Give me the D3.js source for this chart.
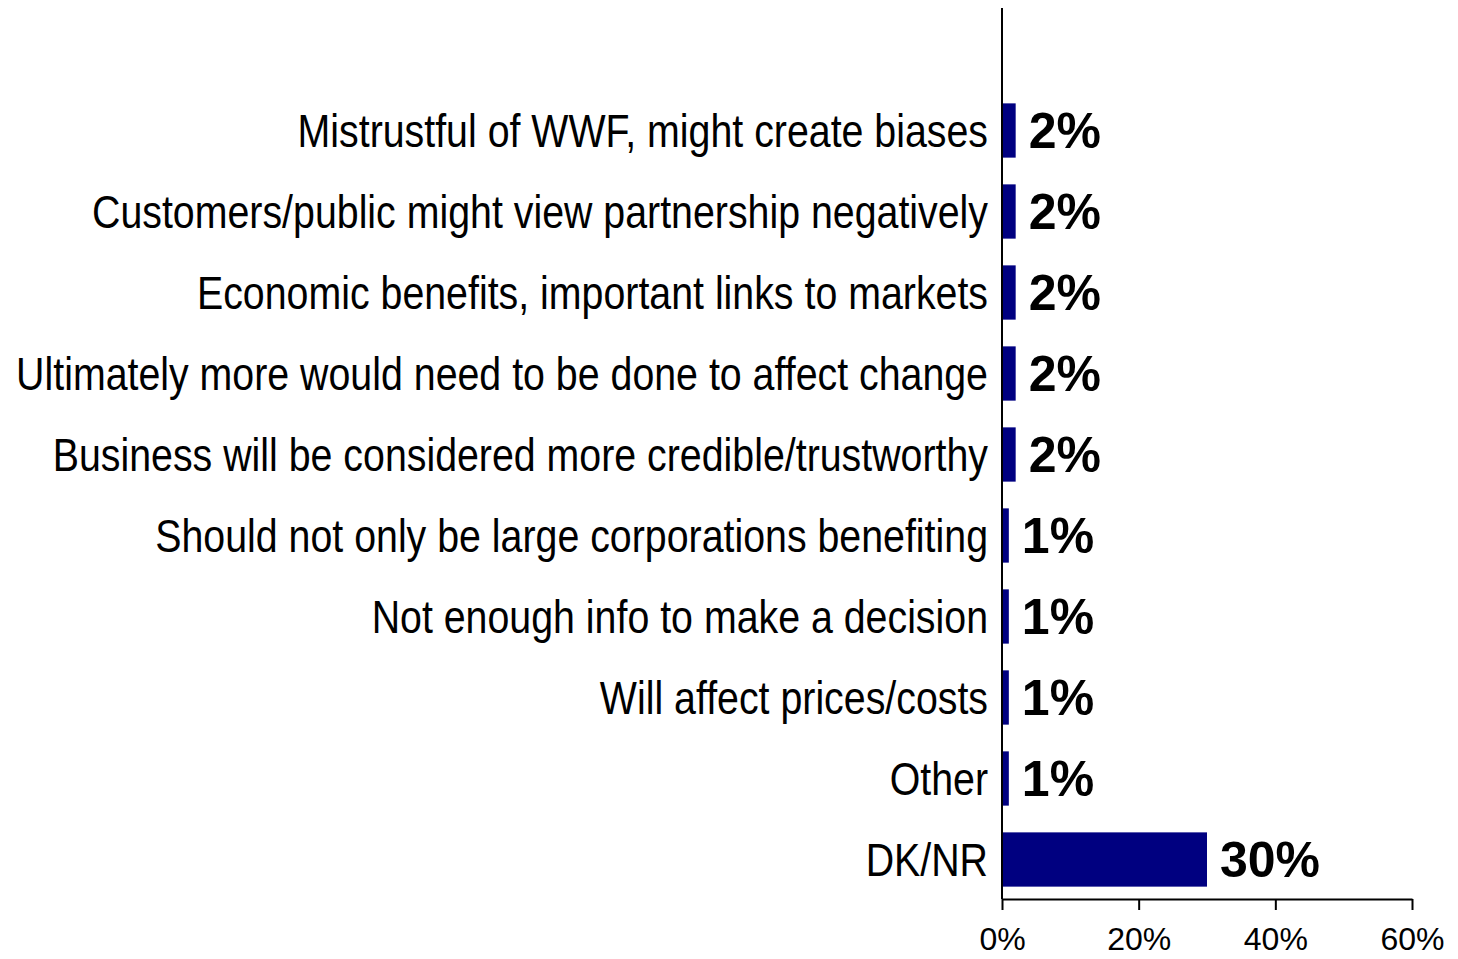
<!DOCTYPE html>
<html>
<head>
<meta charset="utf-8">
<script src="https://cdn.jsdelivr.net/npm/d3@7"></script>
<style>
  html, body { margin: 0; padding: 0; background: #fff; }
  svg { display: block; }
</style>
</head>
<body>
<svg id="chart" width="1458" height="959"></svg>
<script>
// Reasons given, top to bottom
const categories = [
  "Mistrustful of WWF, might create biases",
  "Customers/public might view partnership negatively",
  "Economic benefits, important links to markets",
  "Ultimately more would need to be done to affect change",
  "Business will be considered more credible/trustworthy",
  "Should not only be large corporations benefiting",
  "Not enough info to make a decision",
  "Will affect prices/costs",
  "Other",
  "DK/NR"
];
const values = [2, 2, 2, 2, 2, 1, 1, 1, 1, 30];
const tickValues = [0, 20, 40, 60];

const svg = d3.select("#chart");

const x = d3.scaleLinear().domain([0, 60]).range([1002, 1412]);
const y = d3.scaleBand()
  .domain(categories)
  .range([90, 900])
  .paddingInner(0.33)
  .paddingOuter(0.165);

const barColor = "#000080";
// condensed look for the category labels
const narrow = 0.855;

// bars
svg.append("g")
  .selectAll("rect")
  .data(values)
  .join("rect")
  .attr("x", x(0))
  .attr("y", (d, i) => y(categories[i]))
  .attr("width", d => x(d) - x(0))
  .attr("height", y.bandwidth())
  .attr("fill", barColor);

// value labels
svg.append("g")
  .selectAll("text")
  .data(values)
  .join("text")
  .attr("x", d => x(d) + 13)
  .attr("y", (d, i) => y(categories[i]) + y.bandwidth() / 2)
  .attr("dy", "0.35em")
  .attr("font-family", "Liberation Sans, Arial, sans-serif")
  .attr("font-weight", "bold")
  .attr("font-size", 50)
  .attr("fill", "#000")
  .text(d => d + "%");

// category labels
svg.append("g")
  .selectAll("text")
  .data(categories)
  .join("text")
  .attr("transform", d => `translate(988,${y(d) + y.bandwidth() / 2}) scale(${narrow},1)`)
  .attr("dy", "0.35em")
  .attr("text-anchor", "end")
  .attr("font-family", "Liberation Sans, Arial, sans-serif")
  .attr("font-size", 46)
  .attr("fill", "#000")
  .text(d => d);

// vertical axis line
svg.append("line")
  .attr("x1", x(0)).attr("x2", x(0))
  .attr("y1", 8).attr("y2", 899)
  .attr("stroke", "#000").attr("stroke-width", 2);

// bottom axis
const xAxis = d3.axisBottom(x)
  .tickValues(tickValues)
  .tickFormat(d => d + "%")
  .tickSize(11)
  .tickPadding(17)
  .tickSizeOuter(0);

const gx = svg.append("g")
  .attr("transform", "translate(0,899)")
  .call(xAxis);
gx.select(".domain").attr("stroke", "#000").attr("stroke-width", 2);
gx.selectAll(".tick line").attr("stroke", "#000").attr("stroke-width", 2);
gx.selectAll(".tick text")
  .attr("font-family", "Liberation Sans, Arial, sans-serif")
  .attr("font-size", 32)
  .attr("fill", "#000");
</script>
</body>
</html>
